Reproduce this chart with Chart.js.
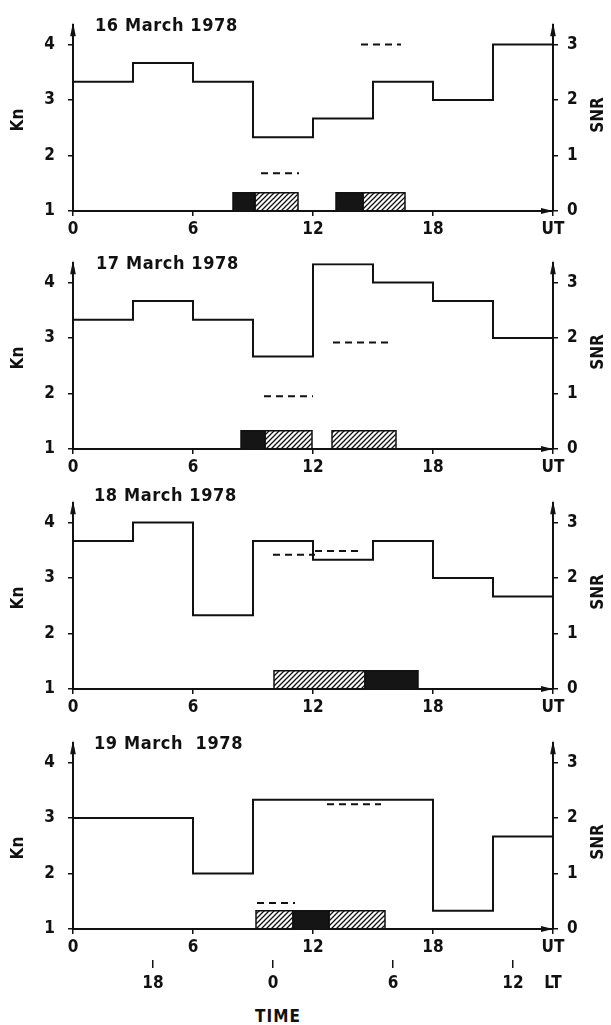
<!DOCTYPE html>
<html>
<head>
<meta charset="utf-8">
<script src="https://cdn.jsdelivr.net/npm/chart.js@4.4.1/dist/chart.umd.min.js"></script>
<style>
  html, body { margin:0; padding:0; background:#fff; }
  body { width:611px; height:1025px; position:relative; overflow:hidden;
         font-family:'Liberation Sans Narrow','Arial Narrow','DejaVu Sans Condensed',sans-serif; color:#111; }
  canvas { position:absolute; left:0; }
  .lbl { position:absolute; font-weight:bold; white-space:nowrap; line-height:1; }
  .date { font-size:18px; transform:translateY(-50%); letter-spacing:0.6px; }
  .rot { font-size:17px; transform:translate(-50%,-50%) rotate(-90deg); }
  .time { font-size:17px; transform:translate(-50%,-50%); letter-spacing:1px; }
</style>
</head>
<body>
<canvas id="p1" width="611" height="237" style="top:2px"></canvas>
<canvas id="p2" width="611" height="237" style="top:240px"></canvas>
<canvas id="p3" width="611" height="237" style="top:480px"></canvas>
<canvas id="p4" width="611" height="285" style="top:720px"></canvas>

<div class="lbl date" style="left:95px;top:25px">16 March 1978</div>
<div class="lbl date" style="left:96px;top:263px">17 March 1978</div>
<div class="lbl date" style="left:94px;top:495px">18 March 1978</div>
<div class="lbl date" style="left:94px;top:743px">19 March&nbsp; 1978</div>

<div class="lbl rot" style="left:17px;top:120px">Kn</div>
<div class="lbl rot" style="left:17px;top:358px">Kn</div>
<div class="lbl rot" style="left:17px;top:598px">Kn</div>
<div class="lbl rot" style="left:17px;top:848px">Kn</div>

<div class="lbl rot" style="left:597px;top:115px">SNR</div>
<div class="lbl rot" style="left:597px;top:352px">SNR</div>
<div class="lbl rot" style="left:597px;top:592px">SNR</div>
<div class="lbl rot" style="left:597px;top:842px">SNR</div>

<div class="lbl time" style="left:278px;top:1016px">TIME</div>

<script>
// ---------------- data ----------------
const utHours = [0, 3, 6, 9, 12, 15, 18, 21, 24];

// Kn (3-hourly), one value per interval
const kn16 = [3.33, 3.67, 3.33, 2.33, 2.67, 3.33, 3.00, 4.00];
const kn17 = [3.33, 3.67, 3.33, 2.67, 4.33, 4.00, 3.67, 3.00];
const kn18 = [3.67, 4.00, 2.33, 3.67, 3.33, 3.67, 3.00, 2.67];
const kn19 = [3.00, 3.00, 2.00, 3.33, 3.33, 3.33, 1.33, 2.67];

// SNR dashed segments: [start UT, end UT, SNR]
const snr16 = [[9.4, 11.3, 0.68], [14.4, 16.4, 3.00]];
const snr17 = [[9.55, 12.0, 0.95], [13.0, 15.9, 1.92]];
const snr18 = [[10.0, 12.1, 2.42], [12.1, 14.25, 2.49]];
const snr19 = [[9.2, 11.1, 0.47], [12.7, 15.4, 2.25]];

// observation windows: [start UT, end UT]
const solid16 = [[8.0, 9.1], [13.15, 14.5]];
const hatch16 = [[9.1, 11.25], [14.5, 16.6]];
const solid17 = [[8.4, 9.6]];
const hatch17 = [[9.6, 11.95], [12.95, 16.15]];
const solid18 = [[14.6, 17.25]];
const hatch18 = [[10.05, 14.6]];
const solid19 = [[11.0, 12.8]];
const hatch19 = [[9.15, 11.0], [12.8, 15.6]];
const barLevel = 0.33;

// tick labels
const utTicks = [0, 6, 12, 18, 24];
const knTicks = [1, 2, 3, 4];
const snrTicks = [0, 1, 2, 3];
const ltTickUT = [4, 10, 16, 22, 24];
const ltLabels = ['18', '0', '6', '12', 'LT'];

// ---------------- drawing ----------------
const FONT = "'Liberation Sans Narrow','Arial Narrow','DejaVu Sans Condensed',sans-serif";
const INK = '#111';

function hatchPattern(ctx) {
  const c = document.createElement('canvas');
  c.width = 5; c.height = 5;
  const g = c.getContext('2d');
  g.strokeStyle = INK; g.lineWidth = 1.3;
  g.beginPath();
  g.moveTo(0, 5); g.lineTo(5, 0);
  g.moveTo(-1, 1); g.lineTo(1, -1);
  g.moveTo(4, 6); g.lineTo(6, 4);
  g.stroke();
  return ctx.createPattern(c, 'repeat');
}

const axisArrows = {
  id: 'axisArrows',
  afterDraw(chart) {
    const { ctx, chartArea: a } = chart;
    ctx.save();
    ctx.fillStyle = INK;
    [a.left, a.right].forEach(x => {
      ctx.beginPath();
      ctx.moveTo(x, a.top - 3);
      ctx.lineTo(x - 2.8, a.top + 11);
      ctx.lineTo(x + 2.8, a.top + 11);
      ctx.closePath();
      ctx.fill();
    });
    ctx.beginPath();
    ctx.moveTo(a.right, a.bottom);
    ctx.lineTo(a.right - 12, a.bottom - 3);
    ctx.lineTo(a.right - 12, a.bottom + 3);
    ctx.closePath();
    ctx.fill();
    ctx.restore();
  }
};

function tickFont() { return { family: FONT, size: 17, weight: 'bold' }; }

function makePanel(id, kn, snr, solid, hatch, withLT) {
  const canvas = document.getElementById(id);
  const ctx = canvas.getContext('2d');
  const pat = hatchPattern(ctx);
  const datasets = [];

  const rect = (a, b) => [{x: a, y: 0}, {x: a, y: barLevel}, {x: b, y: barLevel}, {x: b, y: 0}];
  hatch.forEach(([a, b]) => datasets.push({
    data: rect(a, b), yAxisID: 'y2', fill: 'origin', backgroundColor: pat,
    borderColor: INK, borderWidth: 1.5, pointRadius: 0, tension: 0
  }));
  solid.forEach(([a, b]) => datasets.push({
    data: rect(a, b), yAxisID: 'y2', fill: 'origin', backgroundColor: '#151515',
    borderColor: INK, borderWidth: 1.5, pointRadius: 0, tension: 0
  }));
  snr.forEach(([a, b, v]) => datasets.push({
    data: [{x: a, y: v}, {x: b, y: v}], yAxisID: 'y2', fill: false,
    borderColor: INK, borderWidth: 2, borderDash: [7, 5], pointRadius: 0
  }));
  datasets.push({
    data: utHours.map((h, i) => ({x: h, y: kn[Math.min(i, kn.length - 1)]})),
    yAxisID: 'y', stepped: 'before', fill: false,
    borderColor: INK, borderWidth: 2, pointRadius: 0
  });

  const grid = { drawOnChartArea: false, color: INK, lineWidth: 1.5, tickLength: 5 };
  const border = { color: INK, width: 2 };
  const scales = {
    x: {
      type: 'linear', min: 0, max: 24, weight: 0,
      afterBuildTicks: s => { s.ticks = utTicks.map(v => ({value: v})); },
      afterFit: s => { s.height = withLT ? 31 : 28; },
      border, grid,
      ticks: { color: INK, font: tickFont(), padding: 3, maxRotation: 0, autoSkip: false,
               callback: v => v === 24 ? 'UT' : String(v) }
    },
    y: {
      type: 'linear', position: 'left', min: 1, max: 4.35,
      afterBuildTicks: s => { s.ticks = knTicks.map(v => ({value: v})); },
      afterFit: s => { s.width = 73; },
      border, grid,
      ticks: { color: INK, font: tickFont(), padding: 13 }
    },
    y2: {
      type: 'linear', position: 'right', min: 0, max: 3.35,
      afterBuildTicks: s => { s.ticks = snrTicks.map(v => ({value: v})); },
      afterFit: s => { s.width = 58; },
      border, grid,
      ticks: { color: INK, font: tickFont(), padding: 9 }
    }
  };
  if (withLT) {
    scales.x2 = {
      type: 'linear', position: 'bottom', min: 0, max: 24, weight: 1,
      afterBuildTicks: s => { s.ticks = ltTickUT.map(v => ({value: v})); },
      afterFit: s => { s.height = 45; },
      border: { display: false },
      grid: { drawOnChartArea: false, lineWidth: 1.5, tickLength: 8,
              color: c => (c.tick && c.tick.value === 24) ? 'rgba(0,0,0,0)' : INK },
      ticks: { color: INK, font: tickFont(), padding: 5, maxRotation: 0, autoSkip: false,
               callback: (v, i) => ltLabels[i] }
    };
  }

  new Chart(ctx, {
    type: 'line',
    data: { datasets },
    options: {
      responsive: false, animation: false, devicePixelRatio: 1,
      layout: { padding: { top: 8, left: 0, right: 0, bottom: 0 } },
      plugins: { legend: { display: false }, tooltip: { enabled: false }, title: { display: false } },
      scales
    },
    plugins: [axisArrows]
  });
}

makePanel('p1', kn16, snr16, solid16, hatch16, false);
makePanel('p2', kn17, snr17, solid17, hatch17, false);
makePanel('p3', kn18, snr18, solid18, hatch18, false);
makePanel('p4', kn19, snr19, solid19, hatch19, true);
</script>
</body>
</html>
